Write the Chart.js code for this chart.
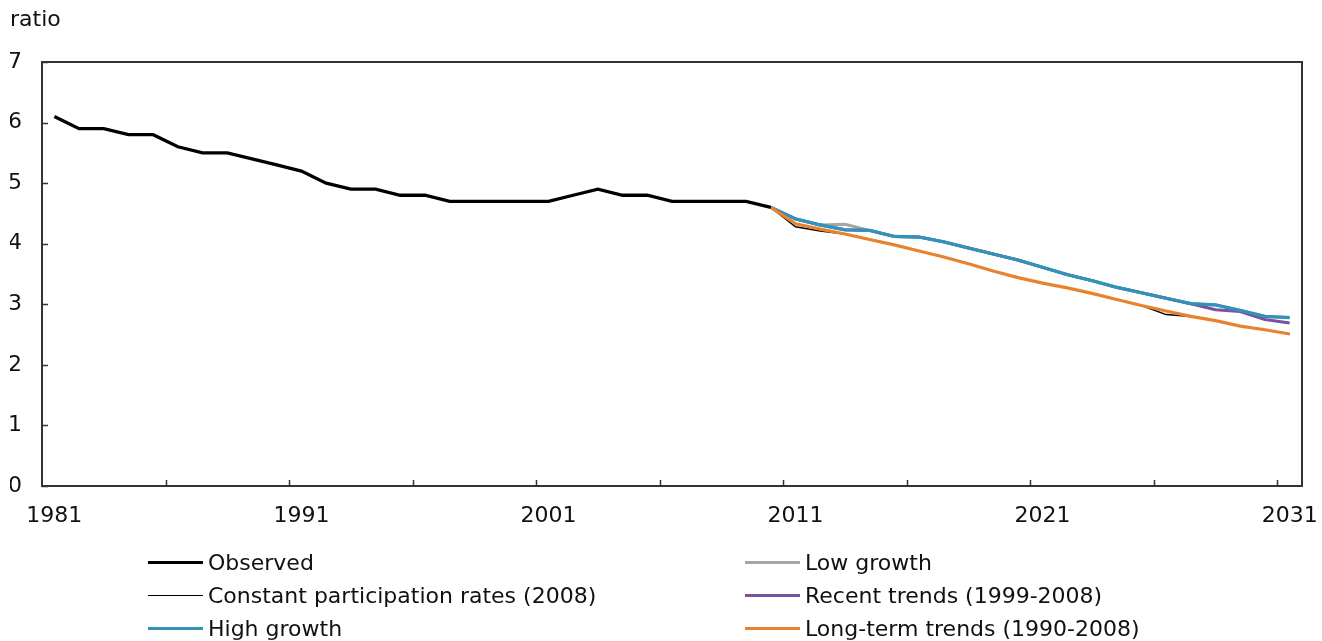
<!DOCTYPE html>
<html>
<head>
<meta charset="utf-8">
<script src="https://cdn.jsdelivr.net/npm/chart.js@4.4.1/dist/chart.umd.min.js"></script>
<style>
  html, body { margin: 0; padding: 0; background: #fff; }
  #wrap { position: relative; width: 1322px; height: 641px; }
  #chart { position: absolute; left: 0; top: 0; }
  .lg { position: absolute; display: flex; align-items: center; height: 30px;
        font-family: "DejaVu Sans", Verdana, sans-serif; font-size: 22px; color: #111; white-space: nowrap; }
  .lg .sw { display: inline-block; width: 55px; margin-right: 5px; }
</style>
</head>
<body>
<div id="wrap">
  <canvas id="chart" width="1322" height="641"></canvas>
  <div id="legend"></div>
</div>
<script>
// ---- data ----
const years = [1981,1982,1983,1984,1985,1986,1987,1988,1989,1990,
               1991,1992,1993,1994,1995,1996,1997,1998,1999,2000,
               2001,2002,2003,2004,2005,2006,2007,2008,2009,2010,
               2011,2012,2013,2014,2015,2016,2017,2018,2019,2020,
               2021,2022,2023,2024,2025,2026,2027,2028,2029,2030,2031];
const xTickLabels = ['1981','1991','2001','2011','2021','2031'];
const yTicks = [0,1,2,3,4,5,6,7];

// observed 1981-2010
const observed = [6.1,5.9,5.9,5.8,5.8,5.6,5.5,5.5,5.4,5.3,
                  5.2,5.0,4.9,4.9,4.8,4.8,4.7,4.7,4.7,4.7,
                  4.7,4.8,4.9,4.8,4.8,4.7,4.7,4.7,4.7,4.6];
// projections 2010-2031
const projStart = 2010;
const constantRates = [4.6,4.28,4.21,4.16,4.07,3.98,3.88,3.78,3.67,3.55,3.44,3.35,3.27,3.18,3.08,2.98,2.83,2.80,2.73,2.64,2.58,2.51];
const highGrowth    = [4.6,4.41,4.31,4.23,4.22,4.12,4.11,4.03,3.93,3.83,3.73,3.61,3.49,3.39,3.28,3.19,3.10,3.01,2.99,2.90,2.80,2.78];
const lowGrowth     = [4.6,4.41,4.31,4.32,4.22,4.12,4.11,4.03,3.93,3.83,3.73,3.61,3.49,3.39,3.28,3.19,3.10,3.01,2.99,2.90,2.80,2.78];
const recentTrends  = [4.6,4.41,4.31,4.23,4.22,4.12,4.11,4.03,3.93,3.83,3.73,3.61,3.49,3.39,3.28,3.19,3.10,3.01,2.91,2.88,2.75,2.69];
const longTerm      = [4.6,4.33,4.24,4.16,4.07,3.98,3.88,3.78,3.67,3.55,3.44,3.35,3.27,3.18,3.08,2.98,2.89,2.80,2.73,2.64,2.58,2.51];

function pad(arr, start) {
  return years.map(y => (y >= start && y - start < arr.length) ? arr[y - start] : null);
}

const seriesDefs = [
  { label: 'Observed', data: pad(observed, 1981), color: '#000000', width: 3.3, order: 0, col: 0, row: 0 },
  { label: 'Constant participation rates (2008)', data: pad(constantRates, projStart), color: '#000000', width: 1.5, order: 5, col: 0, row: 1 },
  { label: 'High growth', data: pad(highGrowth, projStart), color: '#3193B8', width: 3.2, order: 2, col: 0, row: 2 },
  { label: 'Low growth', data: pad(lowGrowth, projStart), color: '#A6A6A6', width: 3, order: 4, col: 1, row: 0 },
  { label: 'Recent trends (1999-2008)', data: pad(recentTrends, projStart), color: '#7A52A0', width: 3, order: 3, col: 1, row: 1 },
  { label: 'Long-term trends (1990-2008)', data: pad(longTerm, projStart), color: '#E8822E', width: 3.2, order: 1, col: 1, row: 2 }
];

const frame = {
  id: 'frame',
  afterDraw(chart) {
    const ctx = chart.ctx;
    const a = chart.chartArea;
    const xs = chart.scales.x, ys = chart.scales.y;
    ctx.save();
    ctx.strokeStyle = '#333333';
    ctx.lineWidth = 2;
    ctx.strokeRect(a.left, a.top, a.right - a.left, a.bottom - a.top);
    ctx.lineWidth = 1.5;
    ctx.beginPath();
    yTicks.forEach(v => {
      const py = Math.round(ys.getPixelForValue(v)) + 0.5;
      ctx.moveTo(a.left, py); ctx.lineTo(a.left + 6, py);
    });
    const half = (xs.getPixelForValue(1) - xs.getPixelForValue(0)) / 2;
    for (let i = 5; i < years.length; i += 5) {
      const px = Math.round(xs.getPixelForValue(i) - half) + 0.5;
      ctx.moveTo(px, a.bottom); ctx.lineTo(px, a.bottom - 6);
    }
    ctx.stroke();
    ctx.restore();
  }
};

const font = { family: '"DejaVu Sans", Verdana, sans-serif', size: 22 };

new Chart(document.getElementById('chart'), {
  type: 'line',
  data: {
    labels: years.map(String),
    datasets: seriesDefs.map(s => ({
      label: s.label, data: s.data, borderColor: s.color, backgroundColor: s.color,
      borderWidth: s.width, pointRadius: 0, pointHoverRadius: 0, tension: 0,
      fill: false, spanGaps: false, order: s.order
    }))
  },
  options: {
    responsive: false,
    animation: false,
    events: [],
    layout: { padding: { left: 10, right: 20, top: 0, bottom: 94.6 } },
    plugins: {
      legend: { display: false },
      tooltip: { enabled: false },
      title: {
        display: true, text: 'ratio', align: 'start', color: '#111',
        font: Object.assign({ weight: 'normal' }, font),
        padding: { top: 7, bottom: 28.6 }
      }
    },
    scales: {
      x: {
        type: 'category',
        offset: true,
        grid: { display: false, drawTicks: false, offset: true },
        border: { display: false },
        afterFit: s => { s.paddingRight = 0; s.paddingLeft = 0; },
        ticks: {
          autoSkip: false, maxRotation: 0, padding: 17, color: '#111', font: font,
          callback: (v, i) => xTickLabels.includes(String(years[i])) ? String(years[i]) : ''
        }
      },
      y: {
        min: 0, max: 7,
        grid: { display: false, drawTicks: false },
        border: { display: false },
        afterFit: s => { s.width = 32; },
        ticks: { stepSize: 1, padding: 20, color: '#111', font: font }
      }
    }
  },
  plugins: [frame]
});

// HTML legend in two columns
const legend = document.getElementById('legend');
const colX = [148, 745];
const rowY = [562, 595, 628];
seriesDefs.forEach(s => {
  const d = document.createElement('div');
  d.className = 'lg';
  d.style.left = colX[s.col] + 'px';
  d.style.top = (rowY[s.row] - 15) + 'px';
  const sw = document.createElement('span');
  sw.className = 'sw';
  sw.style.borderTop = s.width + 'px solid ' + s.color;
  d.appendChild(sw);
  d.appendChild(document.createTextNode(s.label));
  legend.appendChild(d);
});
</script>
</body>
</html>
